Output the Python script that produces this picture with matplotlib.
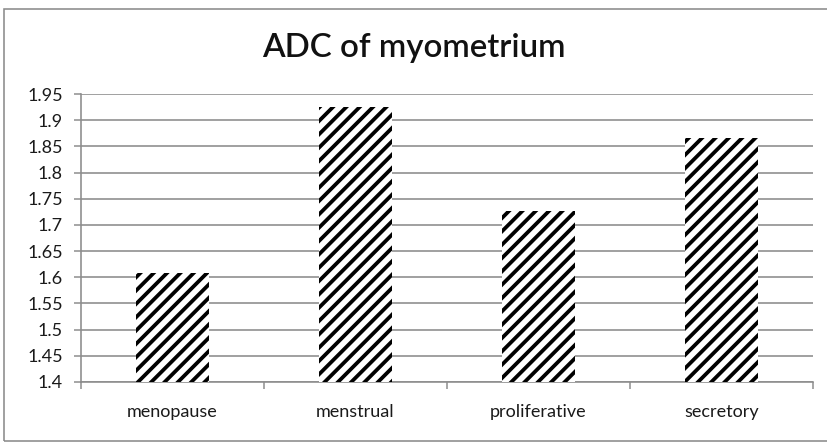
import matplotlib
matplotlib.use("Agg")
import matplotlib.pyplot as plt
from matplotlib.patches import Rectangle

categories = ["menopause", "menstrual", "proliferative", "secretory"]
adc_values = [1.608, 1.926, 1.726, 1.866]
y_ticks = [1.4, 1.45, 1.5, 1.55, 1.6, 1.65, 1.7, 1.75, 1.8, 1.85, 1.9, 1.95]
y_labels = ["1.4", "1.45", "1.5", "1.55", "1.6", "1.65", "1.7", "1.75",
            "1.8", "1.85", "1.9", "1.95"]

DPI = 80
W, H = 827, 445


def pt(px):
    # pixel size -> points at this dpi
    return px * 72 / DPI


plt.rcParams['font.family'] = ['Lato', 'DejaVu Sans']
plt.rcParams['hatch.linewidth'] = 3.4

fig = plt.figure(figsize=(W / DPI, H / DPI), dpi=DPI, facecolor='white')
ax = fig.add_axes([81 / W, 1 - 382 / H, (813 - 81) / W, (382 - 94) / H])

x = range(len(categories))
ax.bar(x, adc_values, width=0.40, color='white', edgecolor='black',
       linewidth=0, hatch='//', zorder=3)

ax.set_xlim(-0.5, len(categories) - 0.5)
ax.set_ylim(1.4, 1.95)
ax.set_yticks(y_ticks)
ax.set_yticklabels(y_labels, fontsize=pt(18), color='#1a1a1a')
ax.set_xticks(list(x))
ax.set_xticklabels(categories, fontsize=pt(18), color='#1a1a1a')
ax.tick_params(axis='x', length=0, pad=pt(22))
ax.tick_params(axis='y', length=pt(7), width=pt(1.5), color='#8c8c8c',
               pad=pt(11))

# category boundary ticks below the x axis
ax.set_xticks([i - 0.5 for i in range(len(categories) + 1)], minor=True)
ax.tick_params(axis='x', which='minor', length=pt(7), width=pt(1.5),
               color='#8c8c8c', direction='out')

ax.grid(axis='y', color='#8c8c8c', linewidth=pt(1.6), zorder=0)
for side in ['top', 'right']:
    ax.spines[side].set_visible(False)
for side in ['left', 'bottom']:
    ax.spines[side].set_color('#8c8c8c')
    ax.spines[side].set_linewidth(pt(1.6))

fig.text(0.5, 1 - 48 / H, "ADC of myometrium", ha='center', va='center',
         fontsize=pt(33), fontweight='semibold', color='#111111')

# outer chart border
fig.add_artist(Rectangle((4 / W, 1 - 441 / H), 1.0, (441 - 9) / H,
                         transform=fig.transFigure, fill=False,
                         edgecolor='#8c8c8c', linewidth=pt(1.6)))

fig.savefig("out.png", dpi=DPI, facecolor='white')
